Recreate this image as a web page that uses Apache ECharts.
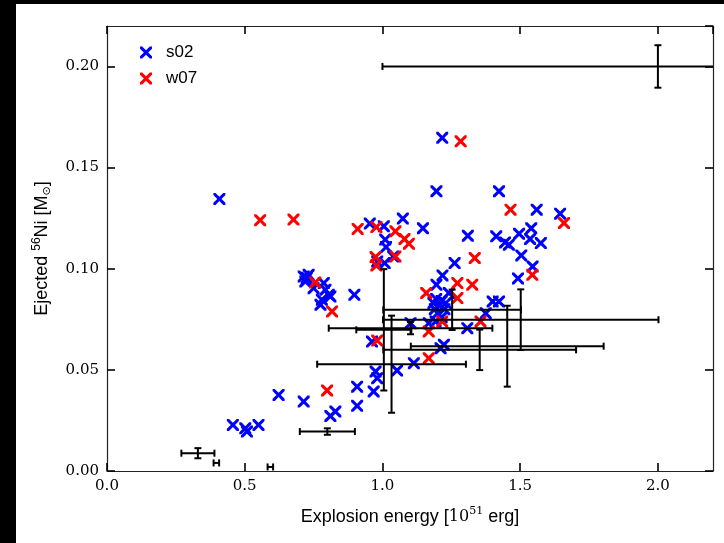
<!DOCTYPE html>
<html><head><meta charset="utf-8">
<script src="https://cdn.jsdelivr.net/npm/echarts@6/dist/echarts.min.js"></script>
<style>html,body{margin:0;padding:0;background:#fff;}#c{width:724px;height:543px;}</style>
</head><body><div id="c"></div>
<script>
// ---- data ----
const xTicks = [0.0, 0.5, 1.0, 1.5, 2.0];
const yTicks = [0.00, 0.05, 0.10, 0.15, 0.20];
const s02E = [0.408,0.457,0.502,0.508,0.550,0.623,0.714,
  0.714,0.732,0.720,0.725,0.750,0.787,0.793,0.780,0.805,0.811,0.775,
  0.898,0.829,0.811,0.908,0.908,0.962,0.975,0.981,0.968,1.053,1.114,
  0.954,1.005,1.074,1.147,1.010,1.013,1.039,1.008,0.981,
  1.217,1.196,1.423,1.560,1.645,1.310,1.413,1.496,1.540,1.536,1.575,1.459,1.445,
  1.504,1.262,1.545,1.218,1.492,1.196,1.241,
  1.185,1.195,1.205,1.215,1.225,1.200,1.190,1.230,1.215,
  1.400,1.423,1.375,1.102,1.168,1.193,1.308,1.223,1.211];
const s02M = [0.1345,0.0228,0.0211,0.0195,0.0228,0.0376,0.0343,
  0.0962,0.0970,0.0937,0.0955,0.0904,0.0929,0.0896,0.0847,0.0871,0.0863,0.0822,
  0.0871,0.0294,0.0272,0.0417,0.0322,0.0640,0.0492,0.0459,0.0393,0.0497,0.0533,
  0.1223,0.1210,0.1248,0.1200,0.1144,0.1107,0.1061,0.1028,0.1036,
  0.1647,0.1383,0.1383,0.1292,0.1272,0.1163,0.1160,0.1173,0.1200,0.1147,0.1127,0.1119,0.1130,
  0.1066,0.1028,0.1011,0.0967,0.0952,0.0921,0.0880,
  0.0830,0.0850,0.0820,0.0840,0.0800,0.0780,0.0800,0.0830,0.0760,
  0.0838,0.0838,0.0780,0.0731,0.0731,0.0739,0.0706,0.0624,0.0607];
const w07E = [0.556,0.677,0.910,0.978,1.047,1.080,1.096,
  1.284,1.465,1.659,1.047,0.975,0.978,1.335,1.544,
  0.756,0.817,1.272,1.326,1.159,1.272,
  1.217,1.168,1.356,0.981,1.168,0.799];
const w07M = [0.1240,0.1243,0.1197,0.1206,0.1185,0.1147,0.1124,
  0.1630,0.1292,0.1226,0.1061,0.1058,0.1016,0.1053,0.0970,
  0.0932,0.0789,0.0929,0.0921,0.0880,0.0855,
  0.0739,0.0690,0.0739,0.0645,0.0558,0.0398];
const errE  = [2.000,0.330,0.397,0.593,0.800,1.253,1.502,1.033,1.353,1.453,1.102,1.005];
const errM  = [0.2000,0.0088,0.0040,0.0020,0.0195,0.0797,0.0748,0.0528,0.0599,0.0617,0.0706,0.0698];
const errDE = [1.000,0.060,0.010,0.010,0.100,0.250,0.500,0.270,0.350,0.350,0.297,0.100];
const errDM = [0.0105,0.0025,0.0000,0.0000,0.0016,0.0100,0.0150,0.0240,0.0100,0.0200,0.0030,0.0300];

const pts = (xs, ys) => xs.map((x, i) => [x, ys[i]]);
const errData = errE.map((e, i) => [e, errM[i], errDE[i], errDM[i]]);
const X_PATH = 'path://M0,0L3.6,0L10,6.4L16.4,0L20,0L20,3.6L13.6,10L20,16.4L20,20L16.4,20L10,13.6L3.6,20L0,20L0,16.4L6.4,10L0,3.6Z';

const chart = echarts.init(document.getElementById('c'), null, {renderer: 'canvas'});
const serif = 'DejaVu Serif';
const sans = 'Liberation Sans';
const fmt = (d) => (v) => {
  const arr = d === 2 ? yTicks : xTicks;
  return arr.some(t => Math.abs(t - v) < 1e-9) ? v.toFixed(d) : '';
};
const tickStyle = {show: true, inside: true, length: 8, lineStyle: {color: '#000', width: 1.6}};
const lineStyle = {show: true, onZero: false, lineStyle: {color: '#222', width: 1.2}};

chart.setOption({
  backgroundColor: '#fff',
  animation: false,
  graphic: [
    {type: 'rect', left: 0, top: 0, shape: {width: 16, height: 543}, style: {fill: '#000'}, z: 100},
    {type: 'rect', left: 0, top: 0, shape: {width: 724, height: 4}, style: {fill: '#000'}, z: 100}
  ],
  grid: {left: 107, right: 11, top: 26, bottom: 72},
  legend: {
    orient: 'vertical', left: 135, top: 39, itemGap: 9,
    itemWidth: 12, itemHeight: 12,
    textStyle: {fontFamily: sans, fontSize: 17, color: '#000', padding: [0, 0, 0, 9]},
    data: [{name: 's02', icon: X_PATH}, {name: 'w07', icon: X_PATH}]
  },
  xAxis: [{
    type: 'value', min: 0, max: 2.2, interval: 0.5, position: 'bottom',
    axisLine: lineStyle, axisTick: tickStyle, splitLine: {show: false},
    axisLabel: {formatter: fmt(1), fontFamily: serif, fontSize: 15, color: '#000', margin: 8, showMaxLabel: false},
    name: '{a|Explosion energy [}{b|10}{s|51}{a| erg]}',
    nameLocation: 'middle', nameGap: 35,
    nameTextStyle: {rich: {
      a: {fontFamily: sans, fontSize: 18, color: '#000', lineHeight: 22},
      b: {fontFamily: serif, fontSize: 16, color: '#000', lineHeight: 22},
      s: {fontFamily: serif, fontSize: 11, color: '#000', verticalAlign: 'top', lineHeight: 22, padding: [0, 0, 10, 0]}
    }}
  }, {
    type: 'value', min: 0, max: 2.2, interval: 0.5, position: 'top',
    axisLine: lineStyle, axisTick: tickStyle, splitLine: {show: false}, axisLabel: {show: false}
  }],
  yAxis: [{
    type: 'value', min: 0, max: 0.22, interval: 0.05, position: 'left',
    axisLine: lineStyle, axisTick: tickStyle, splitLine: {show: false},
    axisLabel: {formatter: fmt(2), fontFamily: serif, fontSize: 15, color: '#000', margin: 8, showMaxLabel: false},
    name: '{a|Ejected }{s|56}{a|Ni [M}{u|⊙}{a|]}',
    nameLocation: 'middle', nameGap: 54, nameRotate: 90,
    nameTextStyle: {rich: {
      a: {fontFamily: sans, fontSize: 18, color: '#000', lineHeight: 22},
      s: {fontFamily: sans, fontSize: 12, color: '#000', verticalAlign: 'top', lineHeight: 22},
      u: {fontFamily: 'DejaVu Sans', fontSize: 11, color: '#000', verticalAlign: 'bottom', lineHeight: 22, padding: [8, 0, 0, 0]}
    }}
  }, {
    type: 'value', min: 0, max: 0.22, interval: 0.05, position: 'right',
    axisLine: lineStyle, axisTick: tickStyle, splitLine: {show: false}, axisLabel: {show: false}
  }],
  series: [
    {name: 's02', type: 'scatter', symbol: X_PATH, symbolSize: 12, data: pts(s02E, s02M),
     itemStyle: {color: '#0000ff', opacity: 1}, z: 2},
    {name: 'w07', type: 'scatter', symbol: X_PATH, symbolSize: 12, data: pts(w07E, w07M),
     itemStyle: {color: '#ff0000', opacity: 1}, z: 3},
    {name: 'err', type: 'custom', data: errData, z: 4, clip: true,
     encode: {x: 0, y: 1},
     renderItem: function (params, api) {
       const e = api.value(0), m = api.value(1), de = api.value(2), dm = api.value(3);
       const L = api.coord([e - de, m]), R = api.coord([e + de, m]);
       const T = api.coord([e, m + dm]), B = api.coord([e, m - dm]);
       const st = {stroke: '#000', lineWidth: 2};
       const c = 3.5;
       const kids = [
         {type: 'line', shape: {x1: L[0], y1: L[1], x2: R[0], y2: R[1]}, style: st},
         {type: 'line', shape: {x1: L[0], y1: L[1] - c, x2: L[0], y2: L[1] + c}, style: st},
         {type: 'line', shape: {x1: R[0], y1: R[1] - c, x2: R[0], y2: R[1] + c}, style: st}
       ];
       if (dm > 0) {
         kids.push({type: 'line', shape: {x1: T[0], y1: T[1], x2: B[0], y2: B[1]}, style: st});
         kids.push({type: 'line', shape: {x1: T[0] - c, y1: T[1], x2: T[0] + c, y2: T[1]}, style: st});
         kids.push({type: 'line', shape: {x1: B[0] - c, y1: B[1], x2: B[0] + c, y2: B[1]}, style: st});
       }
       return {type: 'group', children: kids};
     }}
  ]
});
</script></body></html>
